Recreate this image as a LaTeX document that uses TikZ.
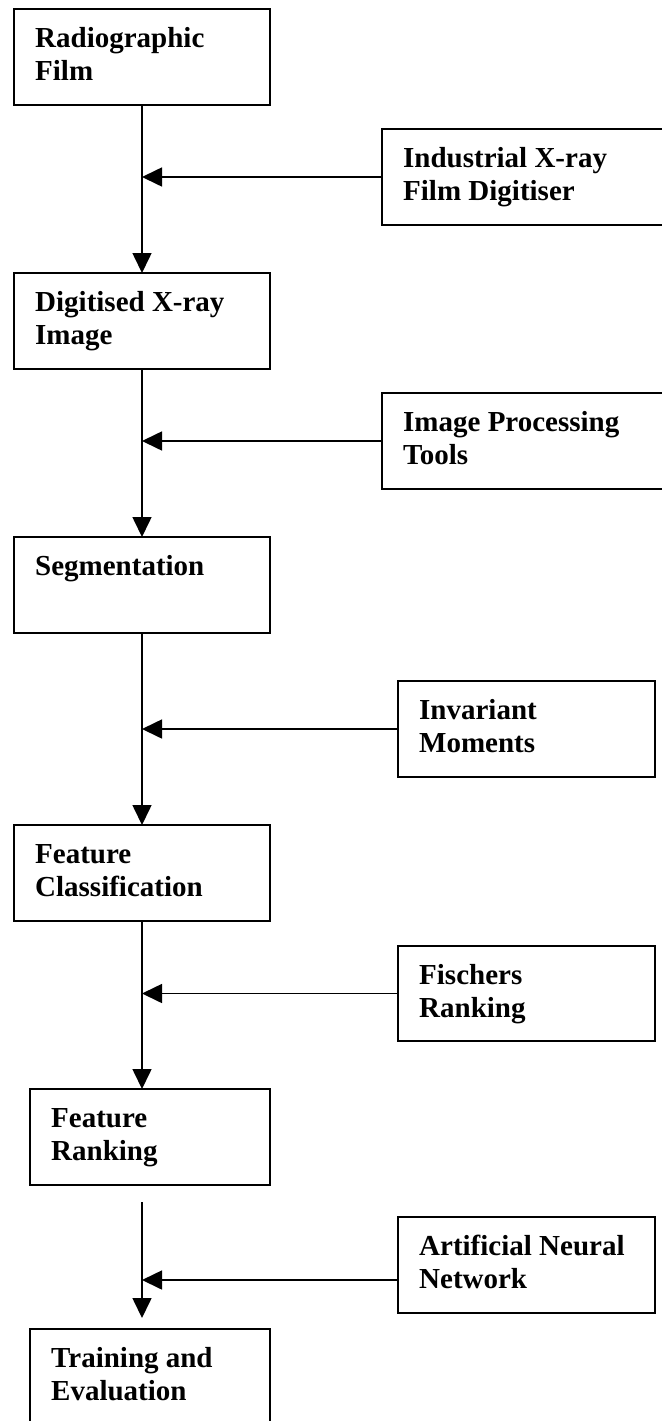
\documentclass[tikz,border=0pt]{standalone}
\usepackage{fontspec}
\setmainfont{Liberation Serif}
\usetikzlibrary{arrows.meta}
\begin{document}
\begin{tikzpicture}[x=1pt,y=-1pt,
  box/.style={draw, line width=2pt, inner sep=0pt, outer sep=0pt, anchor=north west, minimum height=96pt},
  txt/.style={anchor=north west, inner sep=0pt, align=left, font=\bfseries\fontsize{29}{33}\selectfont},
  conn/.style={line width=1.6pt, -{Triangle[length=20pt,width=19pt]}}]
\useasboundingbox (0,0) rectangle (661,1421);
\fill[white] (0,0) rectangle (661,1421);
% left column
\node[box, minimum width=256pt] (b1) at (14,9) {};
\node[box, minimum width=256pt] (b2) at (14,273) {};
\node[box, minimum width=256pt] (b3) at (14,537) {};
\node[box, minimum width=256pt] (b4) at (14,825) {};
\node[box, minimum width=240pt] (b5) at (30,1089) {};
\node[box, minimum width=240pt] (b6) at (30,1329) {};
% right column
\node[box, minimum width=290pt] (r1) at (382,129) {};
\node[box, minimum width=290pt] (r2) at (382,393) {};
\node[box, minimum width=257pt] (r3) at (398,681) {};
\node[box, minimum width=257pt, minimum height=95pt] (r4) at (398,946) {};
\node[box, minimum width=257pt] (r5) at (398,1217) {};
% texts
\node[txt] (t1) at ([xshift=21pt,yshift=-15pt]b1.north west) {\strut Radiographic\\Film};
\node[txt] (t2) at ([xshift=21pt,yshift=-15pt]b2.north west) {\strut Digitised X-ray\\Image};
\node[txt] (t3) at ([xshift=21pt,yshift=-15pt]b3.north west) {\strut Segmentation};
\node[txt] (t4) at ([xshift=21pt,yshift=-15pt]b4.north west) {\strut Feature\\Classification};
\node[txt] (t5) at ([xshift=21pt,yshift=-15pt]b5.north west) {\strut Feature\\Ranking};
\node[txt] (t6) at ([xshift=21pt,yshift=-15pt]b6.north west) {\strut Training and\\Evaluation};
\node[txt] (s1) at ([xshift=21pt,yshift=-15pt]r1.north west) {\strut Industrial X-ray\\Film Digitiser};
\node[txt] (s2) at ([xshift=21pt,yshift=-15pt]r2.north west) {\strut Image Processing\\Tools};
\node[txt] (s3) at ([xshift=21pt,yshift=-15pt]r3.north west) {\strut Invariant\\Moments};
\node[txt] (s4) at ([xshift=21pt,yshift=-15pt]r4.north west) {\strut Fischers\\Ranking};
\node[txt] (s5) at ([xshift=21pt,yshift=-15pt]r5.north west) {\strut Artificial Neural\\Network};
% vertical flow
\draw[conn] (b1.south) -- (b2.north);
\draw[conn] (b2.south) -- (b3.north);
\draw[conn] (b3.south) -- (b4.north);
\draw[conn] (b4.south) -- (b4.south |- b5.north);
\coordinate (g) at (142,1202);
\draw[conn, shorten >=11pt] (g) -- (g |- b6.north);
% side inputs
\draw[conn] (r1.west) -- (r1.west -| b1.south);
\draw[conn] (r2.west) -- (r2.west -| b1.south);
\draw[conn] (r3.west) -- (r3.west -| b1.south);
\draw[conn] (r4.west) -- (r4.west -| b1.south);
\coordinate (a5) at ([yshift=-15pt]r5.west);
\draw[conn] (a5) -- (a5 -| b1.south);
\end{tikzpicture}
\end{document}
